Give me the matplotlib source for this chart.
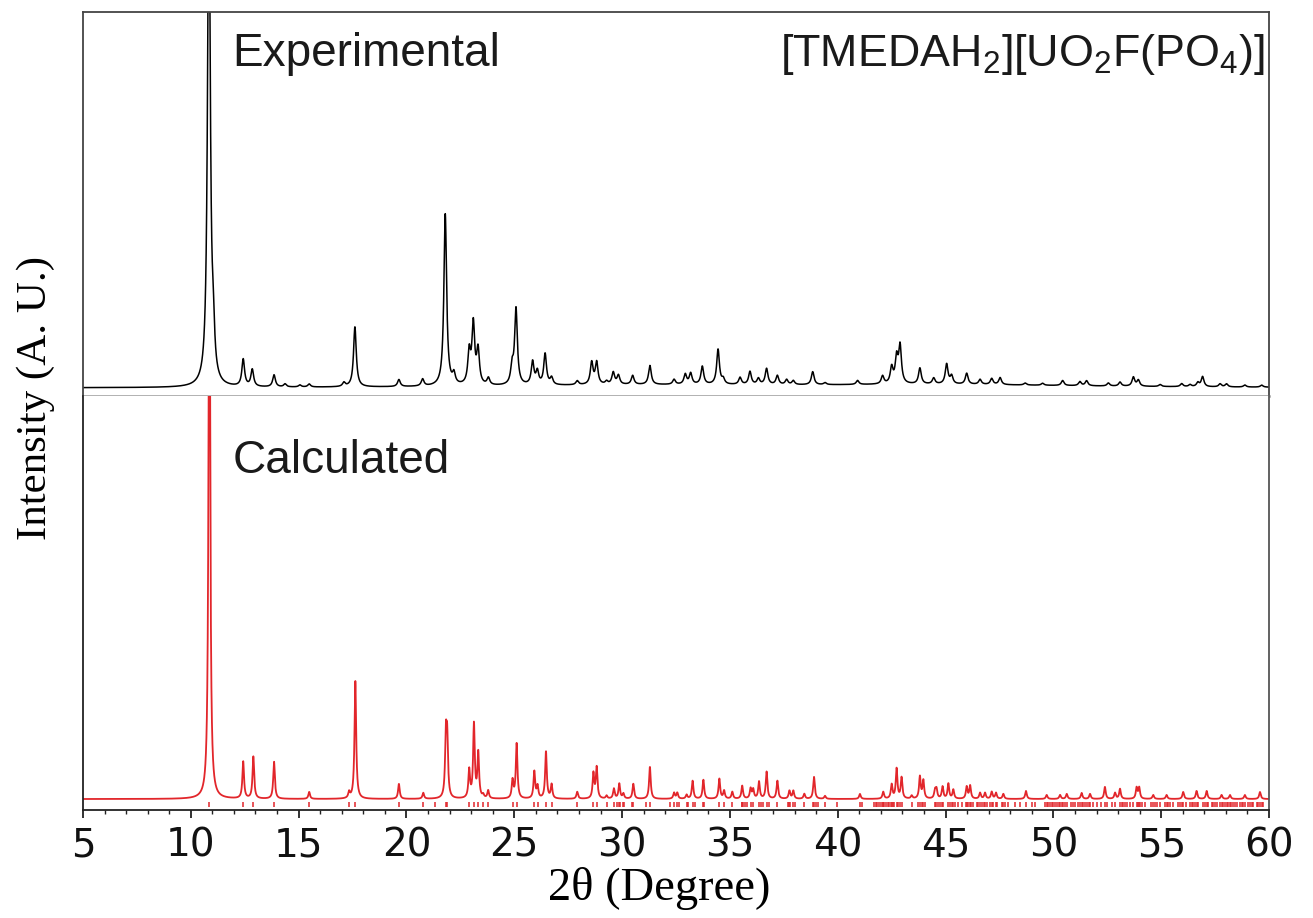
import matplotlib
matplotlib.use("Agg")
import matplotlib.pyplot as plt
import numpy as np
from matplotlib.ticker import MultipleLocator

plt.rcParams['mathtext.fontset'] = 'custom'
plt.rcParams['mathtext.rm'] = 'Liberation Sans'

# measured pattern: peak positions (2theta) and heights
exp_pos = [10.84, 11.04, 12.43, 12.85, 13.86, 14.37, 15.06, 15.49, 17.10, 17.61,
           19.65, 20.75, 21.80, 22.20, 22.91, 23.10, 23.32, 23.80, 24.90, 25.08,
           25.85, 26.07, 26.43, 26.73, 27.92, 28.59, 28.82, 29.28, 29.59, 29.83,
           30.49, 31.29, 32.41, 32.93, 33.18, 33.72, 34.45, 34.69, 35.47, 35.93,
           36.32, 36.70, 37.20, 37.63, 37.94, 38.84, 39.41, 40.92, 42.08, 42.50,
           42.73, 42.89, 43.81, 44.45, 45.05, 45.28, 45.98, 46.60, 47.14, 47.53,
           48.69, 49.50, 50.43, 51.23, 51.54, 52.55, 53.09, 53.71, 53.94, 54.95,
           55.95, 56.34, 56.70, 56.92, 57.73, 58.03, 58.88, 59.66]
exp_int = [520, 38, 27, 17, 12, 3, 2, 3, 4, 60,
           7, 7, 172, 10, 32, 60, 34, 7, 17, 76,
           23, 13, 31, 7, 4, 22, 22, 3, 12, 9,
           9, 19, 5, 10, 11, 18, 35, 5, 7, 13,
           6, 16, 9, 5, 4, 13, 2, 4, 8, 16,
           25, 37, 16, 6, 20, 8, 11, 5, 6, 7,
           2, 2, 5, 4, 5, 3, 4, 9, 6, 2,
           3, 2, 4, 10, 3, 3, 2, 2]

# broad background under the measured pattern
bg_pos = [31.0, 45.0]
bg_int = [2.5, 3.0]

# simulated pattern from the single-crystal structure
calc_pos = [10.86, 12.43, 12.90, 13.86, 15.49, 17.34, 17.63, 19.65, 20.78, 21.83,
            21.89, 22.91, 23.13, 23.33, 23.56, 23.79, 24.92, 25.11, 25.93, 26.08,
            26.47, 26.73, 27.92, 28.67, 28.82, 29.28, 29.62, 29.87, 30.06, 30.52,
            31.29, 32.41, 32.56, 32.99, 33.27, 33.77, 34.51, 34.73, 35.11, 35.57,
            35.96, 36.08, 36.35, 36.70, 37.20, 37.76, 37.94, 38.45, 38.90, 39.41,
            41.03, 42.11, 42.50, 42.73, 42.96, 43.43, 43.81, 43.97, 44.51, 44.58,
            44.86, 45.13, 45.36, 45.98, 46.14, 46.60, 46.83, 47.14, 47.34, 47.68,
            48.73, 49.69, 50.31, 50.62, 51.31, 51.70, 52.39, 52.86, 53.09, 53.86,
            53.98, 54.63, 55.25, 56.02, 56.64, 57.11, 57.80, 58.19, 58.88, 59.58]
calc_int = [620, 37, 42, 37, 7, 6, 118, 15, 6, 58,
            54, 28, 74, 45, 3, 8, 18, 55, 27, 12,
            47, 14, 7, 25, 31, 3, 10, 15, 5, 15,
            32, 6, 6, 4, 18, 19, 20, 8, 7, 13,
            10, 9, 17, 27, 18, 8, 8, 5, 22, 3,
            5, 7, 14, 30, 21, 3, 22, 18, 8, 9,
            12, 15, 9, 12, 13, 6, 6, 7, 6, 5,
            8, 4, 4, 5, 6, 5, 12, 6, 10, 11,
            11, 4, 4, 7, 8, 8, 4, 4, 4, 7]

# weak reflections that only show up as tick marks
weak_refl = [21.33, 29.78, 29.90, 30.09, 30.44, 31.11, 32.22, 32.64, 33.04, 33.38,
             33.81, 35.54, 35.62, 35.70, 35.78, 36.44, 36.52, 36.83, 37.71, 37.79,
             38.02, 38.87, 38.98, 39.10, 39.95, 41.11, 41.68, 41.76, 41.84, 41.92,
             42.00, 42.08, 42.16, 42.24, 42.32, 42.40, 42.47, 42.55, 42.63, 42.80,
             42.90, 43.74, 43.90, 44.05, 44.66, 44.74, 44.85, 45.20, 45.28, 45.43,
             45.59, 45.74, 45.94, 46.05, 46.20, 46.28, 46.44, 46.52, 46.68, 46.76,
             46.90, 47.06, 47.21, 47.40, 47.60, 47.75, 47.91, 48.22, 48.45, 48.99,
             49.14, 49.61, 49.77, 49.86, 49.92, 50.00, 50.08, 50.16, 50.25, 50.38,
             50.46, 50.55, 50.84, 50.92, 51.00, 51.15, 51.23, 51.39, 51.47, 51.55,
             51.63, 51.85, 52.00, 52.23, 52.47, 52.70, 53.17, 53.25, 53.33, 53.40,
             53.55, 53.70, 53.94, 54.02, 54.09, 54.24, 54.55, 54.71, 54.79, 54.94,
             55.17, 55.33, 55.41, 55.56, 55.79, 55.87, 55.95, 56.17, 56.33, 56.41,
             56.49, 56.57, 56.72, 56.95, 57.03, 57.18, 57.34, 57.42, 57.50, 57.58,
             57.72, 57.88, 57.96, 58.04, 58.11, 58.26, 58.34, 58.42, 58.50, 58.65,
             58.73, 58.81, 59.04, 59.12, 59.20, 59.27, 59.42, 59.50, 59.66, 59.73]

x_ticks = [5, 10, 15, 20, 25, 30, 35, 40, 45, 50, 55, 60]


def profile(x, pos, inten, fwhm):
    y = np.zeros_like(x)
    for p, h in zip(pos, inten):
        y += h / (1.0 + ((x - p) / (fwhm / 2.0)) ** 2)
    return y


tt = np.arange(5, 60.0001, 0.004)
y_exp = profile(tt, exp_pos, exp_int, 0.15) + profile(tt, bg_pos, bg_int, 16.0)
y_calc = profile(tt, calc_pos, calc_int, 0.09)

fig = plt.figure(figsize=(13.13, 9.18), dpi=100)
ax1 = fig.add_axes([0.0632, 0.5686, 0.9033, 0.4183])
ax2 = fig.add_axes([0.0632, 0.1176, 0.9033, 0.4510])

red = '#e2262b'

ax1.plot(tt, y_exp, color='black', lw=1.1)
ax1.set_xlim(5, 60)
ax1.set_ylim(-8, 376)
ax1.set_xticks([])
ax1.set_yticks([])
for s in ['top', 'left', 'right']:
    ax1.spines[s].set_color('#444444')
    ax1.spines[s].set_linewidth(1.3)
ax1.spines['bottom'].set_color('#9a9a9a')
ax1.spines['bottom'].set_linewidth(1.8)

ax1.text(0.126, 0.86, 'Experimental', transform=ax1.transAxes,
         fontsize=33, family='Liberation Sans', color='#1a1a1a')
ax1.text(0.997, 0.86, r'[TMEDAH$_\mathregular{2}$][UO$_\mathregular{2}$F(PO$_\mathregular{4}$)]',
         transform=ax1.transAxes, ha='right', fontsize=32.3,
         family='Liberation Sans', color='#1a1a1a')

ax2.plot(tt, y_calc, color=red, lw=1.3)
ax2.vlines(calc_pos + weak_refl, -8, -3, color=red, lw=1.1)
ax2.set_xlim(5, 60)
ax2.set_ylim(-11, 403)
ax2.set_yticks([])
ax2.spines['top'].set_visible(False)
ax2.spines['left'].set_color('#222222')
ax2.spines['right'].set_color('#555555')
ax2.spines['bottom'].set_color('#222222')
for s in ['left', 'right', 'bottom']:
    ax2.spines[s].set_linewidth(1.3)

ax2.text(0.126, 0.815, 'Calculated', transform=ax2.transAxes,
         fontsize=33, family='Liberation Sans', color='#1a1a1a')

ax2.set_xticks(x_ticks)
ax2.xaxis.set_minor_locator(MultipleLocator(1))
ax2.tick_params(axis='x', which='major', direction='out', length=6, width=1.3,
                pad=6, labelsize=28, colors='#222222')
ax2.tick_params(axis='x', which='minor', direction='out', length=3, width=1.0,
                colors='#222222')
for lab in ax2.get_xticklabels():
    lab.set_family('DejaVu Sans')
    lab.set_color('#111111')

ax2.set_xlabel('2θ (Degree)', family='Liberation Serif', fontsize=33.5)
ax2.xaxis.label.set_va('center')
ax2.xaxis.set_label_coords(0.486, -0.19)
fig.text(0.027, 0.566, 'Intensity (A. U.)', rotation=90, ha='center', va='center',
         family='Liberation Serif', fontsize=31)

fig.savefig('out.png', dpi=100)
